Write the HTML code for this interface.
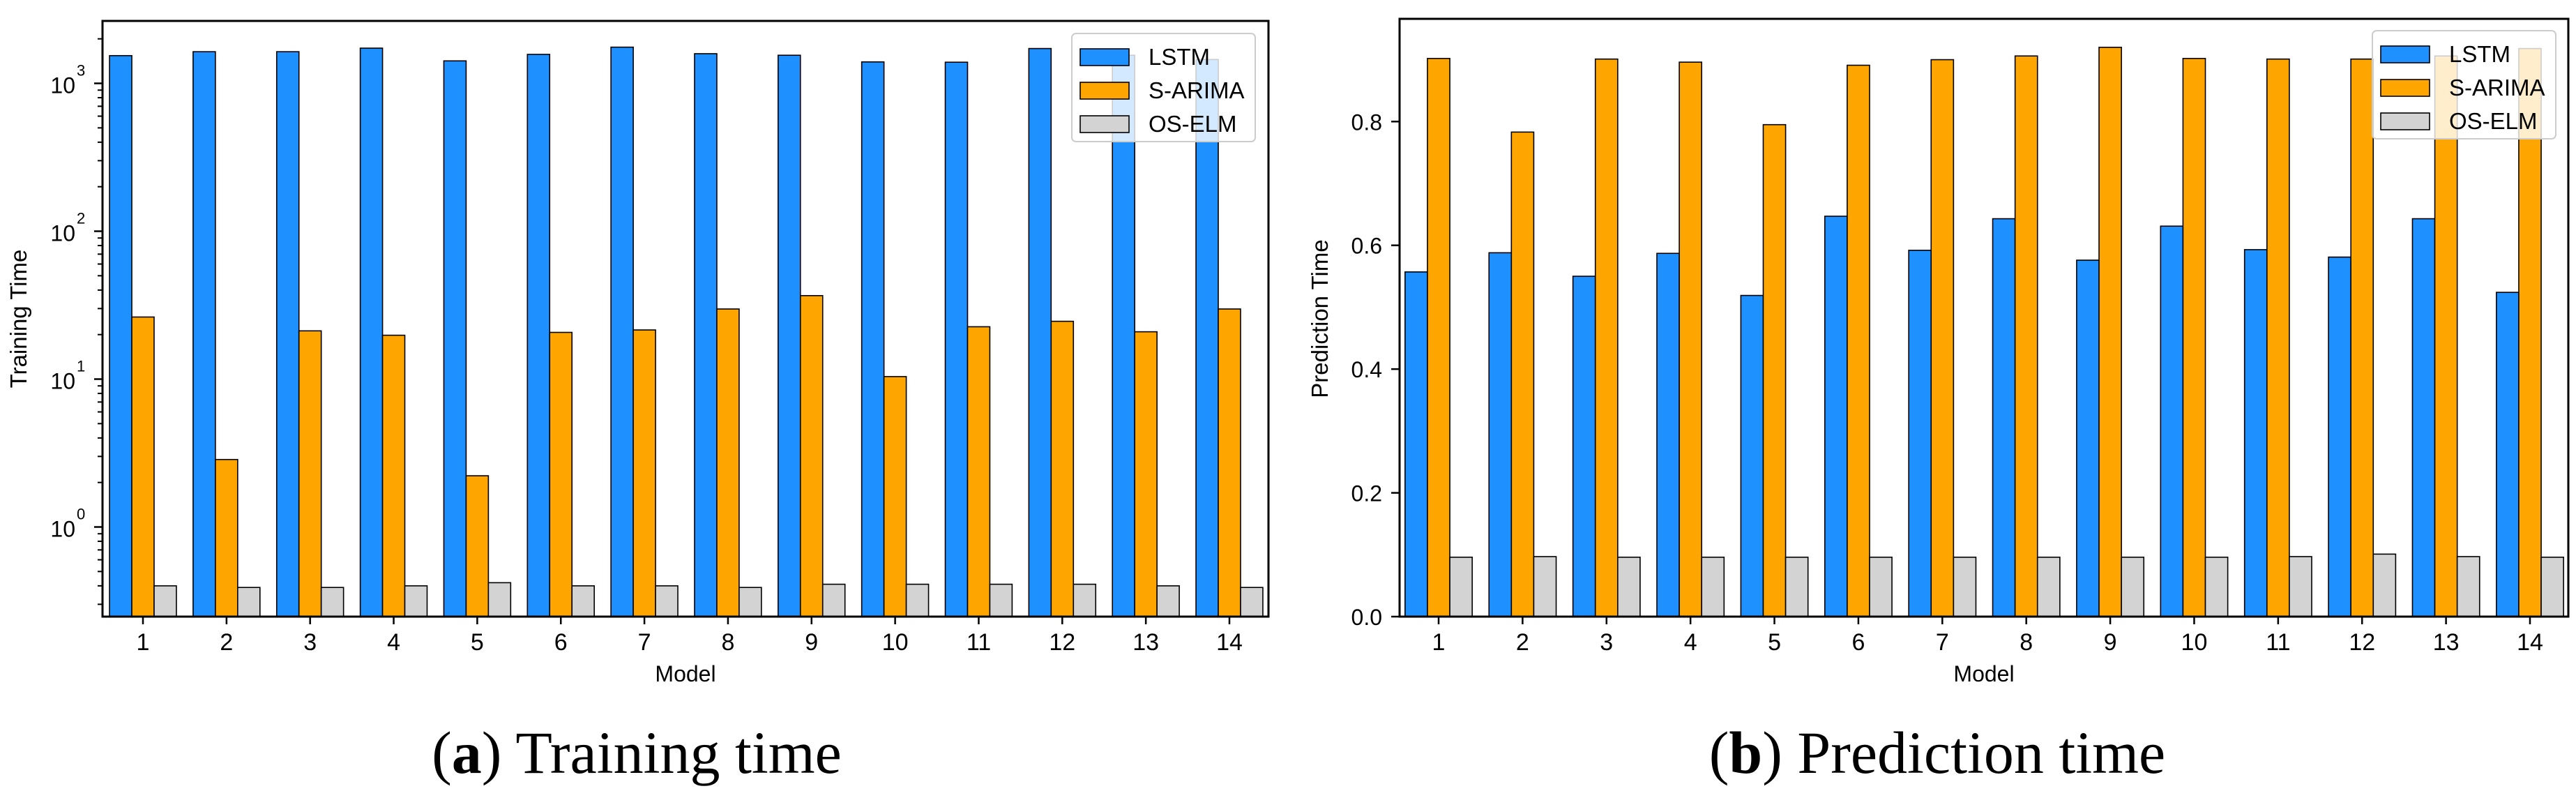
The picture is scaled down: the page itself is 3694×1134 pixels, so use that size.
<!DOCTYPE html>
<html><head><meta charset="utf-8"><style>
html,body{margin:0;padding:0;background:#fff;}
svg{display:block;font-family:"Liberation Sans",Arial,sans-serif;}
</style></head><body>
<svg id="chart" width="3694" height="1134" viewBox="0 0 3694 1134" xmlns="http://www.w3.org/2000/svg">
<rect width="3694" height="1134" fill="#fff"/>
<g id="pa"></g>
<g id="pb"></g>
<text x="913" y="1108" text-anchor="middle" font-family="'Liberation Serif',serif" font-size="86">(<tspan font-weight="bold">a</tspan>) Training time</text>
<text x="2778" y="1108" text-anchor="middle" font-family="'Liberation Serif',serif" font-size="86">(<tspan font-weight="bold">b</tspan>) Prediction time</text>
</svg>
<script>
const categories = [1,2,3,4,5,6,7,8,9,10,11,12,13,14];
const seriesNames = ["LSTM","S-ARIMA","OS-ELM"];
const trainLSTM = [1540,1637,1637,1730,1419,1570,1757,1587,1549,1397,1390,1720,1549,1450];
const trainSARIMA = [26.3,2.86,21.2,19.8,2.22,20.7,21.5,29.8,36.7,10.4,22.6,24.6,20.9,29.8];
const trainOSELM = [0.40,0.39,0.39,0.40,0.42,0.40,0.40,0.39,0.41,0.41,0.41,0.41,0.40,0.39];
const predLSTM = [0.557,0.588,0.550,0.587,0.519,0.647,0.592,0.643,0.576,0.631,0.593,0.581,0.643,0.524];
const predSARIMA = [0.902,0.783,0.901,0.896,0.795,0.891,0.900,0.906,0.920,0.902,0.901,0.901,0.906,0.918];
const predOSELM = [0.096,0.097,0.096,0.096,0.096,0.096,0.096,0.096,0.096,0.096,0.097,0.101,0.097,0.096];
const logTicks = [0,1,2,3];
const linTicks = [0.0,0.2,0.4,0.6,0.8];
const colors = ["#1E90FF","#FFA500","#D3D3D3"];
const NS="http://www.w3.org/2000/svg";
function mk(parent,tag,attrs,text){const e=document.createElementNS(NS,tag);for(const k in attrs)e.setAttribute(k,attrs[k]);if(text!==undefined)e.textContent=text;parent.appendChild(e);return e;}

function panel(g,cfg){
  const L=cfg.left,R=cfg.right,T=cfg.top,B=cfg.bottom;
  const xs=c=>cfg.x1+(c-1)*(cfg.x14-cfg.x1)/13;
  const sp=(cfg.x14-cfg.x1)/13, bw=sp*0.8/3;
  const ys=cfg.ys;
  const data=[cfg.s0,cfg.s1,cfg.s2];
  data.forEach((arr,si)=>{
    arr.forEach((v,i)=>{
      const cx=xs(categories[i])+(si-1)*bw;
      const y=ys(v);
      const r=mk(g,'rect',{x:cx-bw/2,y:y,width:bw,height:B-y,fill:colors[si],stroke:'#000','stroke-width':1.6});
      
      
    });
  });
  // frame
  const fr=mk(g,'rect',{x:L,y:T,width:R-L,height:B-T,fill:'none',stroke:'#000','stroke-width':3});
  
  
  // x ticks
  categories.forEach(c=>{
    const x=xs(c);
    mk(g,'line',{x1:x,x2:x,y1:B,y2:B+11,stroke:'#000','stroke-width':2.5});
    const t=mk(g,'text',{x:x,y:B+48,'text-anchor':'middle','font-size':34},String(c));
    
    
  });
  const xl=mk(g,'text',{x:(L+R)/2,y:977,'text-anchor':'middle','font-size':32},'Model');
  
  
  const yl=mk(g,'text',{x:0,y:0,'text-anchor':'middle','font-size':33,transform:`translate(${cfg.ylx},${cfg.yly}) rotate(-90)`},cfg.ylabel);
  
  
  cfg.yticks(g);
  // legend
  const lg=mk(g,'g',{});
  
  
  mk(lg,'rect',{x:cfg.lx,y:cfg.ly,width:263,height:155,rx:6,fill:'#fff','fill-opacity':0.8,stroke:'#ccc','stroke-width':2});
  seriesNames.forEach((n,i)=>{
    const yy=cfg.ly+22+i*48;
    const e=mk(lg,'g',{});
    
    
    mk(e,'rect',{x:cfg.lx+12,y:yy,width:70,height:24,fill:colors[i],stroke:'#000','stroke-width':1.6});
    mk(e,'text',{x:cfg.lx+110,y:yy+23,'font-size':33},n);
  });
}

// Panel A (log)
const aTop=30,aBot=884,dec=212,y3=119.5;
const ysA=v=>y3+(3-Math.log10(v))*dec;
panel(document.getElementById('pa'),{
  left:147,right:1819,top:aTop,bottom:aBot,x1:205,x14:1763,ys:ysA,
  s0:trainLSTM,s1:trainSARIMA,s2:trainOSELM,ylabel:'Training Time',ylx:38,yly:457,lx:1537,ly:48,
  yticks:(g)=>{
    for(let d=-1;d<=3;d++){for(let m=1;m<10;m++){
      const v=m*Math.pow(10,d);const y=ysA(v);
      if(y<aTop||y>aBot)continue;
      mk(g,'line',{x1:147,x2:m===1?135:140,y1:y,y2:y,stroke:'#000','stroke-width':m===1?2.5:2});
    }}
    logTicks.forEach(p=>{
      const y=ysA(Math.pow(10,p));
      const t=mk(g,'text',{x:108,y:y+14,'text-anchor':'end','font-size':32},'10');
      
      
      mk(g,'text',{x:110,y:y-11,'font-size':22},String(p));
    });
  }
});
// Panel B (linear)
const bTop=27,bBot=884,bMax=0.966;
const ysB=v=>bBot-(v/bMax)*(bBot-bTop);
panel(document.getElementById('pb'),{
  left:2007,right:3683,top:bTop,bottom:bBot,x1:2063,x14:3628,ys:ysB,
  s0:predLSTM,s1:predSARIMA,s2:predOSELM,ylabel:'Prediction Time',ylx:1904,yly:457,lx:3402,ly:44,
  yticks:(g)=>{
    linTicks.forEach(v=>{
      const y=ysB(v);
      mk(g,'line',{x1:2007,x2:1995,y1:y,y2:y,stroke:'#000','stroke-width':2.5});
      const t=mk(g,'text',{x:1982,y:y+12,'text-anchor':'end','font-size':32},v.toFixed(1));
      
      
    });
  }
});
</script>
</body></html>
